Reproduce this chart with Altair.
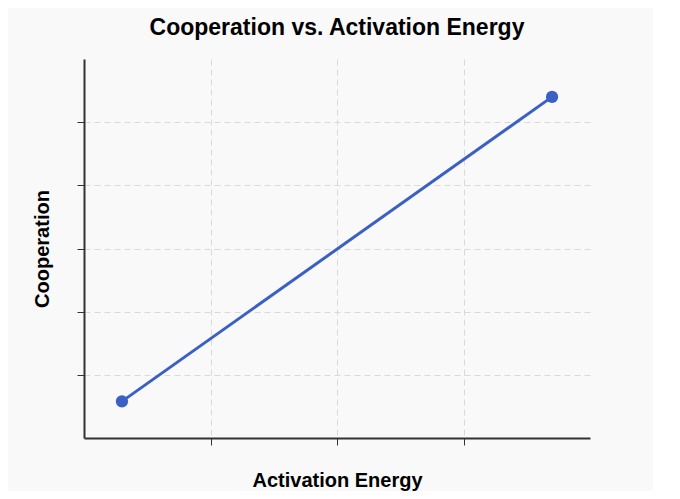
import altair as alt
import pandas as pd

activation_energy = [0.3, 3.7]
cooperation = [0.58, 5.4]
x_ticks = [1, 2, 3]
y_ticks = [1, 2, 3, 4, 5]

df = pd.DataFrame({"Activation Energy": activation_energy, "Cooperation": cooperation})

blue = "#3b60c4"

x_enc = alt.X("Activation Energy:Q",
              scale=alt.Scale(domain=[0, 4], nice=False, zero=False),
              axis=alt.Axis(values=x_ticks, title="Activation Energy", titlePadding=25))
y_enc = alt.Y("Cooperation:Q",
              scale=alt.Scale(domain=[0, 6], nice=False, zero=False),
              axis=alt.Axis(values=y_ticks, title="Cooperation", titlePadding=24))

line = alt.Chart(df).mark_line(color=blue, strokeWidth=3).encode(x=x_enc, y=y_enc)
pts = alt.Chart(df).mark_circle(color=blue, size=150, opacity=1).encode(x=x_enc, y=y_enc)

chart = (line + pts).properties(
    width=506,
    height=379,
    autosize=alt.AutoSizeParams(type="none"),
    padding={"left": 76, "top": 51, "right": 63, "bottom": 53},
    background="#f9f9f9",
    title=alt.TitleParams(
        "Cooperation vs. Activation Energy",
        anchor="middle",
        frame="group",
        font="Liberation Sans",
        fontSize=23,
        fontWeight="bold",
        color="#000000",
        offset=19,
    ),
).configure_view(
    strokeWidth=0
).configure_axis(
    domainColor="#333333",
    domainWidth=2,
    tickColor="#333333",
    tickSize=7,
    tickWidth=1,
    labels=False,
    grid=True,
    gridColor="#d9d9d9",
    gridDash=[6, 4],
    gridWidth=1,
    titleFont="Liberation Sans",
    titleFontSize=20,
    titleFontWeight="bold",
    titleColor="#000000",
)

chart.save("out.html", embed_options={"renderer": "svg", "actions": False})
